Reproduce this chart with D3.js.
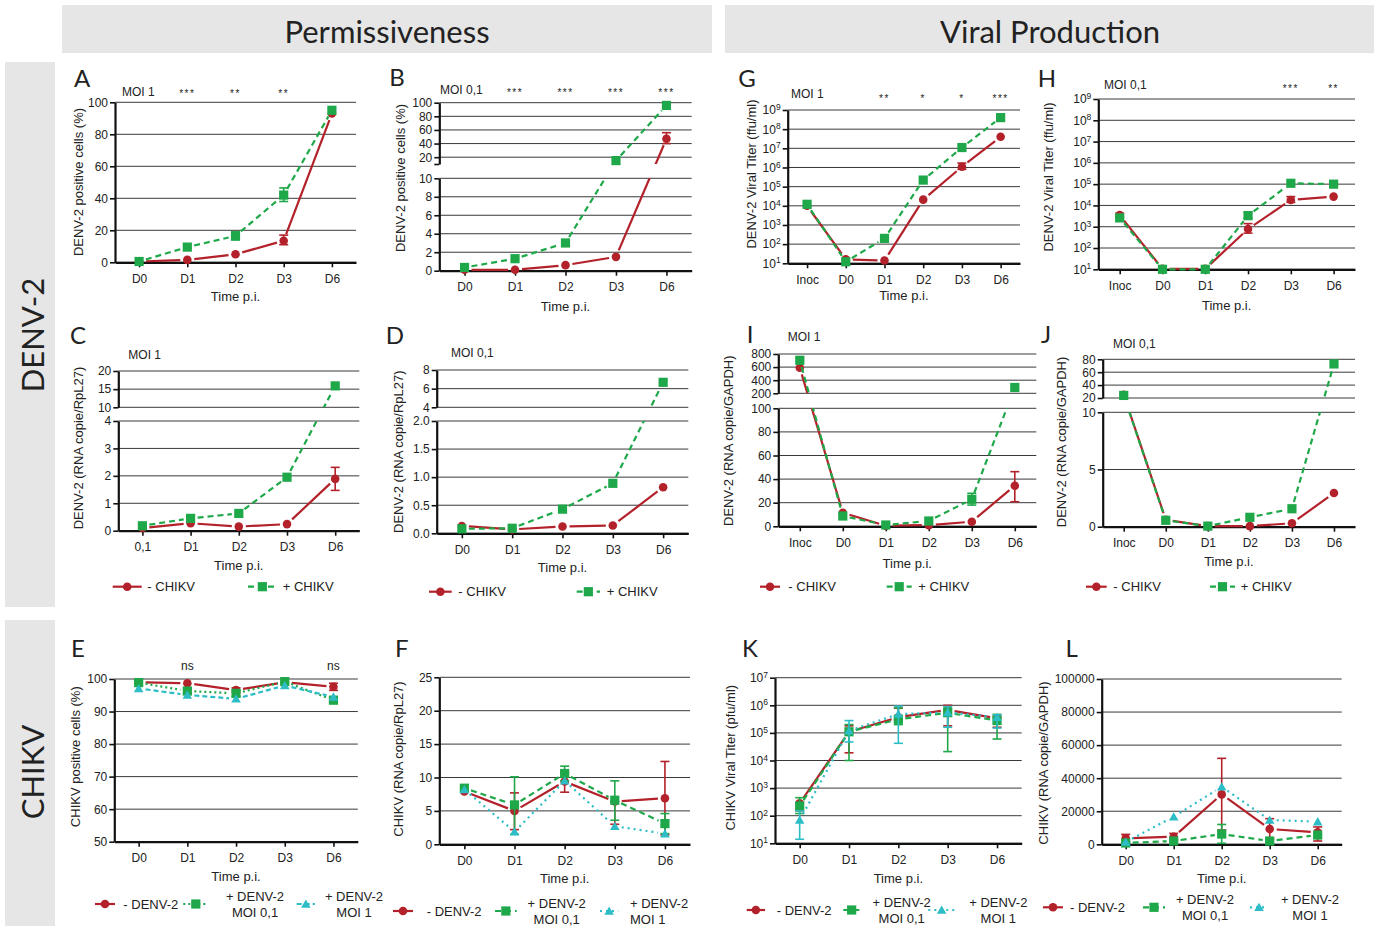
<!DOCTYPE html>
<html><head><meta charset="utf-8">
<script src="https://cdn.jsdelivr.net/npm/d3@7"></script>
<style>
body{margin:0;background:#fff}
svg text{font-family:"Liberation Sans",Arial,sans-serif;fill:#222}
</style></head><body>
<svg id="fig" width="1379" height="926"></svg>
<script>
// ---------- categories ----------
const tp5 = ["D0","D1","D2","D3","D6"];
const tpC = ["0,1","D1","D2","D3","D6"];
const tp6 = ["Inoc","D0","D1","D2","D3","D6"];

// ---------- Panel A (DENV-2 positive cells %, MOI 1) ----------
const A_minus = [0.5, 1.5, 5, 13.5, 93];
const A_plus  = [0.5, 9.5, 16.5, 42, 95];
const A_minusErr = [null, null, null, [11, 17], null];
const A_plusErr  = [null, null, [14, 19], [38, 46.5], null];
const A_stars = ["", "***", "**", "**", ""];

// ---------- Panel B (MOI 0,1) ----------
const B_minus = [0.1, 0.1, 0.6, 1.5, 47];
const B_plus  = [0.35, 1.3, 3.0, 15, 96];
const B_minusErr = [null, null, null, null, [40, 56]];
const B_stars = ["", "***", "***", "***", "***"];

// ---------- Panel G (DENV-2 titer, MOI 1) ----------
const G_minus = [10000, 16, 14, 21000, 1.1e6, 4e7];
const G_plus  = [12000, 12, 200, 2.2e5, 1.1e7, 4e8];
const G_minusErr = [null, null, null, null, [8e5, 1.7e6], null];
const G_stars = ["", "", "**", "*", "*", "***"];

// ---------- Panel H (DENV-2 titer, MOI 0,1) ----------
const H_minus = [3500, 10.5, 10.5, 780, 18000, 26000];
const H_plus  = [2600, 10, 10, 3300, 110000, 100000];
const H_minusErr = [[2800, 4300], null, null, [500, 1400], [14000, 26000], null];
const H_plusErr  = [null, null, null, [2500, 5000], null, null];
const H_stars = ["", "", "", "", "***", "**"];

// ---------- Panel C (DENV-2 RNA / RpL27, MOI 1) ----------
const C_minus = [0.1, 0.27, 0.15, 0.24, 1.89];
const C_plus  = [0.18, 0.45, 0.63, 1.95, 15.9];
const C_minusErr = [null, null, null, null, [1.47, 2.31]];

// ---------- Panel D (MOI 0,1) ----------
const D_minus = [0.13, 0.07, 0.12, 0.14, 0.82];
const D_plus  = [0.08, 0.09, 0.43, 0.89, 6.68];

// ---------- Panel I (DENV-2 RNA / GAPDH, MOI 1) ----------
const I_minus = [591, 11.5, 0.5, 1, 3.9, 34.4];
const I_plus  = [704, 8.7, 1.1, 4.5, 22.9, 289];
const I_minusErr = [null, null, null, null, null, [20.8, 46.3]];
const I_plusErr  = [null, null, null, null, [18, 28], null];

// ---------- Panel J (MOI 0,1) ----------
const J_minus = [25, 0.6, 0.05, 0.05, 0.3, 2.94];
const J_plus  = [24, 0.56, 0.05, 0.82, 1.57, 72.8];

// ---------- Panel E (CHIKV positive cells %) ----------
const E_minus  = [99.0, 98.7, 96.6, 99.0, 97.6];
const E_plus01 = [98.9, 96.3, 95.6, 99.2, 93.5];
const E_plus1  = [97.1, 95.1, 93.9, 98.0, 94.5];
const E_minusErr  = [null, null, [95.9, 97.3], null, [96.5, 98.7]];
const E_plus01Err = [null, [95.5, 97.2], [94.6, 96.6], null, [92.5, 94.5]];
const E_stars = ["", "ns", "", "", "ns"];

// ---------- Panel F (CHIKV RNA / RpL27) ----------
const F_minus  = [7.9, 5.0, 9.4, 6.4, 6.9];
const F_plus01 = [8.4, 5.9, 10.6, 6.6, 3.1];
const F_plus1  = [8.2, 1.9, 9.5, 2.7, 1.6];
const F_minusErr  = [null, [2.2, 7.7], [7.8, 10.8], [3.0, 6.4], [1.4, 12.4]];
const F_plus01Err = [null, [1.5, 10.1], [9.5, 11.7], [3.6, 9.5], [1.6, 4.6]];

// ---------- Panel K (CHIKV titer pfu/ml) ----------
const K_minus  = [280, 1.1e5, 3.7e5, 6.8e5, 3.4e5];
const K_plus01 = [224, 1.1e5, 3.1e5, 5.4e5, 2.8e5];
const K_plus1  = [70, 1.2e5, 4.8e5, 5.5e5, 3.7e5];
const K_minusErr  = [[150, 300], [1.9e4, 1.8e5], [3e5, 7.8e5], [1.8e5, 1e6], [1.6e5, 4e5]];
const K_plus01Err = [[120, 450], [1e4, 2e5], [2e5, 8e5], [2.1e4, 8e5], [6e4, 4.7e5]];
const K_plus1Err  = [[14, 150], [4.7e4, 2.8e5], [4.2e4, 9.3e5], [1.6e5, 9e5], [1.5e5, 4.5e5]];

// ---------- Panel L (CHIKV RNA / GAPDH) ----------
const L_minus  = [3600, 4600, 30200, 9250, 7200];
const L_plus01 = [800, 2000, 6200, 2000, 5600];
const L_plus1  = [1400, 16700, 34800, 14700, 13700];
const L_minusErr  = [[1500, 6000], [2500, 6600], [8650, 52000], [3000, 15500], [2000, 10500]];
const L_plus01Err = [null, null, [600, 12000], null, null];

// ---------- styles ----------
const RED = "#b3212a", GREEN = "#1fa84a", CYAN = "#2dbdc6";
const sMinus  = {color: RED, dash: null, marker: "circle"};
const sPlus   = {color: GREEN, dash: "6,4", marker: "square"};
const sGreenDot = {color: GREEN, dash: "2,3", marker: "square"};
const sCyanDash = {color: CYAN, dash: "5,3", marker: "tri"};
const sCyanDot  = {color: CYAN, dash: "2,4", marker: "tri"};

const svg = d3.select("#fig");
const defs = svg.append("defs");

// header & side bars
const BAR = "#e6e6e6";
svg.append("rect").attr("x", 62).attr("y", 5).attr("width", 650).attr("height", 48).attr("fill", BAR);
svg.append("rect").attr("x", 725).attr("y", 5).attr("width", 649).attr("height", 48).attr("fill", BAR);
svg.append("rect").attr("x", 5).attr("y", 62).attr("width", 50).attr("height", 545).attr("fill", BAR);
svg.append("rect").attr("x", 5).attr("y", 620).attr("width", 50).attr("height", 306).attr("fill", BAR);
const big = (t, x, y, rot) => svg.append("text").text(t)
  .attr("transform", `translate(${x},${y})` + (rot ? " rotate(-90)" : ""))
  .attr("text-anchor", "middle").attr("dominant-baseline", "central")
  .style("font-family", "Lato, 'Open Sans', sans-serif").style("font-size", "31px").style("fill", "#222");
big("Permissiveness", 387, 31);
big("Viral Production", 1050, 31);
big("DENV-2", 32, 335, true);
big("CHIKV", 32, 772, true);

function marker(g, type, cx, cy, color) {
  if (type === "circle") g.append("circle").attr("cx", cx).attr("cy", cy).attr("r", 4.3).attr("fill", color);
  else if (type === "square") g.append("rect").attr("x", cx - 4.6).attr("y", cy - 4.6).attr("width", 9.2).attr("height", 9.2).attr("fill", color);
  else g.append("path").attr("d", d3.symbol(d3.symbolTriangle, 40)()).attr("transform", `translate(${cx},${cy + 1})`).attr("fill", color);
}
function segLine(g, a, b, st, gap) {
  const dx = b[0] - a[0], dy = b[1] - a[1], L = Math.hypot(dx, dy);
  if (L <= 2 * gap) return;
  const ux = dx / L, uy = dy / L;
  g.append("line").attr("x1", a[0] + ux * gap).attr("y1", a[1] + uy * gap)
    .attr("x2", b[0] - ux * gap).attr("y2", b[1] - uy * gap)
    .attr("stroke", st.color).attr("stroke-width", 2.2)
    .attr("stroke-dasharray", st.dash);
}
function styleAxis(ax) {
  ax.attr("font-family", null).attr("font-size", null);
  ax.select(".domain").attr("stroke", "#111").attr("stroke-width", 2.2);
  ax.selectAll(".tick line").attr("stroke", "#111").attr("stroke-width", 1.6);
  ax.selectAll(".tick text").style("font-size", "12px").style("fill", "#222");
}

function drawPanel(p) {
  const g = svg.append("g");
  const x = d3.scalePoint().domain(p.cats).range([p.x0, p.x1]).padding(0.5);
  const segs = p.segs.map(s => Object.assign({}, s, {
    sc: (p.log ? d3.scaleLog() : d3.scaleLinear()).domain(s.domain).range([s.bottom, s.top])
  }));
  const y = v => {
    if (segs.length === 1) return segs[0].sc(v);
    const lo = segs[0], hi = segs[1];
    if (v <= lo.domain[1]) return lo.sc(v);
    if (v >= hi.domain[0]) return hi.sc(v);
    const t = (v - lo.domain[1]) / (hi.domain[0] - lo.domain[1]);
    return lo.top + t * (hi.bottom - lo.top);
  };
  const base = segs[0].bottom;
  // grid
  segs.forEach(s => {
    g.append("g").selectAll("line").data(s.grid || s.ticks).join("line")
      .attr("x1", p.x0).attr("x2", p.x1).attr("y1", d => s.sc(d)).attr("y2", d => s.sc(d))
      .attr("stroke", "#3a3a3a").attr("stroke-width", 1);
  });
  // y axes
  segs.forEach(s => {
    const ax = g.append("g").attr("transform", `translate(${p.x0},0)`)
      .call(d3.axisLeft(s.sc).tickValues(s.ticks).tickSize(5).tickSizeOuter(0).tickPadding(2)
        .tickFormat(s.fmt || (p.log ? () => "" : d => d)));
    styleAxis(ax);
    if (p.log) ax.selectAll(".tick text").each(function (d) {
      const t = d3.select(this); t.text(null);
      t.append("tspan").text("10");
      t.append("tspan").attr("dy", "-0.5em").style("font-size", "8.5px").text(Math.round(Math.log10(d)));
    });
  });
  // x axis
  const xa = g.append("g").attr("transform", `translate(0,${base})`)
    .call(d3.axisBottom(x).tickSize(5).tickSizeOuter(0).tickPadding(7));
  styleAxis(xa);

  // clip for broken axes
  let clip = null;
  if (segs.length > 1) {
    const id = "clip" + p.id;
    const cp = defs.append("clipPath").attr("id", id);
    cp.append("rect").attr("x", p.x0).attr("width", p.x1 - p.x0 + 10)
      .attr("y", segs[0].top).attr("height", segs[0].bottom - segs[0].top + 10);
    cp.append("rect").attr("x", p.x0).attr("width", p.x1 - p.x0 + 10)
      .attr("y", segs[1].top - 10).attr("height", segs[1].bottom - segs[1].top + 10);
    clip = `url(#${id})`;
  }
  // series
  p.series.forEach(s => {
    const pts = s.values.map((v, i) => v == null ? null : [x(p.cats[i]), y(v)]);
    const lg = g.append("g").attr("clip-path", clip);
    for (let i = 0; i < pts.length - 1; i++) if (pts[i] && pts[i + 1]) segLine(lg, pts[i], pts[i + 1], s.st, 7);
    if (s.err) s.err.forEach((e, i) => {
      if (!e) return;
      const cx = x(p.cats[i]), y0 = y(e[0]), y1 = y(e[1]);
      g.append("line").attr("x1", cx).attr("x2", cx).attr("y1", y0).attr("y2", y1)
        .attr("stroke", s.st.color).attr("stroke-width", 1.6);
      [y0, y1].forEach(yy => g.append("line").attr("x1", cx - 4.5).attr("x2", cx + 4.5)
        .attr("y1", yy).attr("y2", yy).attr("stroke", s.st.color).attr("stroke-width", 1.6));
    });
    pts.forEach(pt => { if (pt) marker(g, s.st.marker, pt[0], pt[1], s.st.color); });
  });
  // letter
  g.append("text").text(p.letter[0]).attr("x", p.letter[1]).attr("y", p.letter[2])
    .attr("text-anchor", "middle").attr("dominant-baseline", "central")
    .style("font-family", "Lato, 'Open Sans', sans-serif").style("font-size", "24px");
  // MOI label
  if (p.moi) g.append("text").text(p.moi[0]).attr("x", p.moi[1]).attr("y", p.moi[2])
    .attr("dominant-baseline", "central").style("font-size", "12px");
  // stars
  if (p.stars) p.stars.forEach((t, i) => {
    if (!t) return;
    const ns = t === "ns";
    g.append("text").text(t).attr("x", x(p.cats[i])).attr("y", ns ? p.starsY : p.starsY + 5.5)
      .attr("text-anchor", "middle").attr("dominant-baseline", ns ? "central" : null)
      .style("font-size", ns ? "12px" : "10px").style("letter-spacing", ns ? null : "1.5px");
  });
  // axis titles
  g.append("text").text(p.ylab[0]).attr("transform", `translate(${p.ylab[1]},${p.ylab[2]}) rotate(-90)`)
    .attr("text-anchor", "middle").attr("dominant-baseline", "central").style("font-size", "13px");
  g.append("text").text("Time p.i.").attr("x", x(p.cats[Math.floor(p.cats.length / 2)]) + (p.cats.length % 2 ? 0 : -x.step() / 2))
    .attr("y", p.xlabY).attr("text-anchor", "middle").attr("dominant-baseline", "central").style("font-size", "13px");
  // legend
  if (p.legend) p.legend.forEach(it => {
    const st = it.st;
    g.append("line").attr("x1", it.x1).attr("x2", it.x2).attr("y1", p.legY).attr("y2", p.legY)
      .attr("stroke", st.color).attr("stroke-width", 2.2).attr("stroke-dasharray", st.dash);
    marker(g, st.marker, (it.x1 + it.x2) / 2, p.legY, st.color);
    if (it.text.length === 1) {
      g.append("text").text(it.text[0]).attr("x", it.tx).attr("y", p.legY)
        .attr("dominant-baseline", "central").style("font-size", "13px");
    } else {
      it.text.forEach((t, k) => g.append("text").text(t).attr("x", it.tx)
        .attr("y", p.legY + (k === 0 ? -8 : 8)).attr("text-anchor", it.anchor || "middle")
        .attr("dominant-baseline", "central").style("font-size", "13px"));
    }
  });
}

const logTicks = n => d3.range(1, n + 1).map(k => Math.pow(10, k));

drawPanel({id: "A", cats: tp5, x0: 115, x1: 356,
  segs: [{domain: [0, 100], bottom: 262.3, top: 102.3, ticks: [0, 20, 40, 60, 80, 100]}],
  series: [{values: A_minus, err: A_minusErr, st: sMinus}, {values: A_plus, err: A_plusErr, st: sPlus}],
  letter: ["A", 82, 77], moi: ["MOI 1", 122, 91.7], stars: A_stars, starsY: 91.7,
  ylab: ["DENV-2 positive cells (%)", 78, 182], xlabY: 296});

drawPanel({id: "B", cats: tp5, x0: 439.3, x1: 691.7,
  segs: [{domain: [0, 10], bottom: 270.7, top: 178.3, ticks: [0, 2, 4, 6, 8, 10]},
         {domain: [10, 100], bottom: 164, top: 102.7, ticks: [10, 20, 40, 60, 80, 100], grid: [20, 40, 60, 80, 100], fmt: d => d === 10 ? "" : d}],
  series: [{values: B_minus, err: B_minusErr, st: sMinus}, {values: B_plus, st: sPlus}],
  letter: ["B", 397, 76], moi: ["MOI 0,1", 440, 90], stars: B_stars, starsY: 90.5,
  ylab: ["DENV-2 positive cells (%)", 400, 178], xlabY: 306});

drawPanel({id: "G", cats: tp6, x0: 787.7, x1: 1020, log: true,
  segs: [{domain: [10, 1e9], bottom: 263.3, top: 110, ticks: logTicks(9)}],
  series: [{values: G_minus, err: G_minusErr, st: sMinus}, {values: G_plus, st: sPlus}],
  letter: ["G", 747, 77], moi: ["MOI 1", 791, 94], stars: G_stars, starsY: 96,
  ylab: ["DENV-2 Viral Titer (ffu/ml)", 751.7, 174], xlabY: 295});

drawPanel({id: "H", cats: tp6, x0: 1098.3, x1: 1355, log: true,
  segs: [{domain: [10, 1e9], bottom: 269.3, top: 99, ticks: logTicks(9)}],
  series: [{values: H_minus, err: H_minusErr, st: sMinus}, {values: H_plus, err: H_plusErr, st: sPlus}],
  letter: ["H", 1047, 77], moi: ["MOI 0,1", 1104, 85], stars: H_stars, starsY: 86.7,
  ylab: ["DENV-2 Viral Titer (ffu/ml)", 1048, 177], xlabY: 305});

drawPanel({id: "C", cats: tpC, x0: 118.3, x1: 359.3,
  segs: [{domain: [0, 4], bottom: 530.7, top: 421, ticks: [0, 1, 2, 3, 4]},
         {domain: [10, 20], bottom: 407.3, top: 371, ticks: [10, 15, 20]}],
  series: [{values: C_minus, err: C_minusErr, st: sMinus}, {values: C_plus, st: sPlus}],
  letter: ["C", 78, 334], moi: ["MOI 1", 128.3, 355],
  ylab: ["DENV-2 (RNA copie/RpL27)", 78.3, 448], xlabY: 565, legY: 586.7,
  legend: [{st: sMinus, x1: 112.7, x2: 141.7, tx: 147.3, text: ["- CHIKV"]},
           {st: sPlus, x1: 248, x2: 276.7, tx: 282.7, text: ["+ CHIKV"]}]});

drawPanel({id: "D", cats: tp5, x0: 436.7, x1: 688.3,
  segs: [{domain: [0, 2], bottom: 533.3, top: 421, ticks: [0, 0.5, 1, 1.5, 2], fmt: d3.format(".1f")},
         {domain: [4, 8], bottom: 407.3, top: 370, ticks: [4, 6, 8]}],
  series: [{values: D_minus, st: sMinus}, {values: D_plus, st: sPlus}],
  letter: ["D", 395, 334], moi: ["MOI 0,1", 451, 353.3],
  ylab: ["DENV-2 (RNA copie/RpL27)", 398, 451.7], xlabY: 567.3, legY: 591.7,
  legend: [{st: sMinus, x1: 429, x2: 451.7, tx: 458.3, text: ["- CHIKV"]},
           {st: sPlus, x1: 576.7, x2: 600, tx: 606.7, text: ["+ CHIKV"]}]});

drawPanel({id: "I", cats: tp6, x0: 778.3, x1: 1036.3,
  segs: [{domain: [0, 100], bottom: 526.3, top: 408.3, ticks: [0, 20, 40, 60, 80, 100]},
         {domain: [200, 800], bottom: 393.3, top: 354, ticks: [200, 400, 600, 800]}],
  series: [{values: I_minus, err: I_minusErr, st: sMinus}, {values: I_plus, err: I_plusErr, st: sPlus}],
  letter: ["I", 750, 333], moi: ["MOI 1", 787.7, 337.3],
  ylab: ["DENV-2 (RNA copie/GAPDH)", 728, 440.7], xlabY: 563.3, legY: 586.7,
  legend: [{st: sMinus, x1: 760, x2: 780, tx: 788.3, text: ["- CHIKV"]},
           {st: sPlus, x1: 886.7, x2: 911.7, tx: 918.3, text: ["+ CHIKV"]}]});

drawPanel({id: "J", cats: tp6, x0: 1102.7, x1: 1355,
  segs: [{domain: [0, 10], bottom: 526.7, top: 412.3, ticks: [0, 5, 10]},
         {domain: [20, 80], bottom: 398, top: 359.3, ticks: [20, 40, 60, 80]}],
  series: [{values: J_minus, st: sMinus}, {values: J_plus, st: sPlus}],
  letter: ["J", 1046, 333], moi: ["MOI 0,1", 1113, 344],
  ylab: ["DENV-2 (RNA copie/GAPDH)", 1061.7, 442], xlabY: 561.7, legY: 586.7,
  legend: [{st: sMinus, x1: 1086, x2: 1106.7, tx: 1113.3, text: ["- CHIKV"]},
           {st: sPlus, x1: 1210, x2: 1235, tx: 1240.7, text: ["+ CHIKV"]}]});

drawPanel({id: "E", cats: tp5, x0: 114.3, x1: 357.8,
  segs: [{domain: [50, 100], bottom: 841.7, top: 679, ticks: [50, 60, 70, 80, 90, 100]}],
  series: [{values: E_minus, err: E_minusErr, st: sMinus}, {values: E_plus01, err: E_plus01Err, st: sGreenDot},
           {values: E_plus1, st: sCyanDash}],
  letter: ["E", 78, 647], stars: E_stars, starsY: 665.7,
  ylab: ["CHIKV positive cells (%)", 75, 756.7], xlabY: 876.7, legY: 904,
  legend: [{st: sMinus, x1: 95, x2: 115, tx: 123.3, text: ["- DENV-2"]},
           {st: sGreenDot, x1: 183.3, x2: 208.3, tx: 255, text: ["+ DENV-2", "MOI 0,1"]},
           {st: sCyanDash, x1: 296.7, x2: 315, tx: 354, text: ["+ DENV-2", "MOI 1"]}]});

drawPanel({id: "F", cats: tp5, x0: 439.3, x1: 690,
  segs: [{domain: [0, 25], bottom: 844.3, top: 677.3, ticks: [0, 5, 10, 15, 20, 25]}],
  series: [{values: F_minus, err: F_minusErr, st: sMinus}, {values: F_plus01, err: F_plus01Err, st: sPlus},
           {values: F_plus1, st: sCyanDot}],
  letter: ["F", 401.7, 647],
  ylab: ["CHIKV (RNA copie/RpL27)", 398, 759], xlabY: 878.3, legY: 911,
  legend: [{st: sMinus, x1: 393, x2: 413, tx: 426.7, text: ["- DENV-2"]},
           {st: sPlus, x1: 495, x2: 516.7, tx: 556.7, text: ["+ DENV-2", "MOI 0,1"]},
           {st: sCyanDot, x1: 600, x2: 618.3, tx: 630, anchor: "start", text: ["+ DENV-2", "MOI 1"]}]});

drawPanel({id: "K", cats: tp5, x0: 775, x1: 1021.7, log: true,
  segs: [{domain: [10, 1e7], bottom: 843.3, top: 677.7, ticks: logTicks(7)}],
  series: [{values: K_minus, err: K_minusErr, st: sMinus}, {values: K_plus01, err: K_plus01Err, st: sPlus},
           {values: K_plus1, err: K_plus1Err, st: sCyanDot}],
  letter: ["K", 750, 647],
  ylab: ["CHIKV Viral Titer (pfu/ml)", 730, 757.7], xlabY: 878.3, legY: 910,
  legend: [{st: sMinus, x1: 746.7, x2: 765, tx: 776.7, text: ["- DENV-2"]},
           {st: sPlus, x1: 843.3, x2: 860, tx: 901.7, text: ["+ DENV-2", "MOI 0,1"]},
           {st: sCyanDot, x1: 928.3, x2: 955, tx: 998.3, text: ["+ DENV-2", "MOI 1"]}]});

drawPanel({id: "L", cats: tp5, x0: 1101.7, x1: 1341.7,
  segs: [{domain: [0, 100000], bottom: 844.3, top: 679, ticks: [0, 20000, 40000, 60000, 80000, 100000]}],
  series: [{values: L_minus, err: L_minusErr, st: sMinus}, {values: L_plus01, err: L_plus01Err, st: sPlus},
           {values: L_plus1, st: sCyanDot}],
  letter: ["L", 1071.7, 647],
  ylab: ["CHIKV (RNA copie/GAPDH)", 1043, 763], xlabY: 878.3, legY: 907.3,
  legend: [{st: sMinus, x1: 1043, x2: 1063, tx: 1070, text: ["- DENV-2"]},
           {st: sPlus, x1: 1143, x2: 1165, tx: 1205, text: ["+ DENV-2", "MOI 0,1"]},
           {st: sCyanDot, x1: 1250, x2: 1268, tx: 1310, text: ["+ DENV-2", "MOI 1"]}]});
</script>
</body></html>
